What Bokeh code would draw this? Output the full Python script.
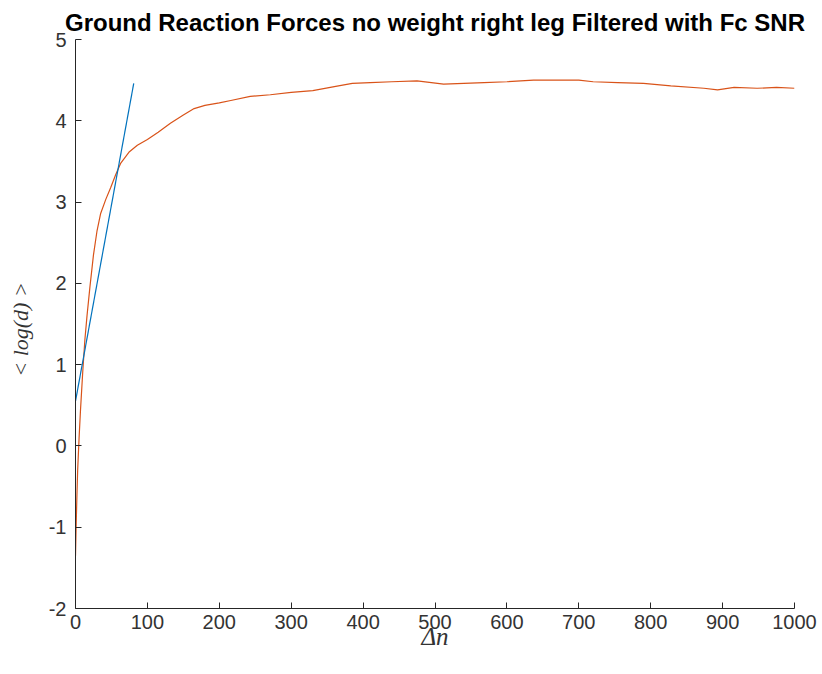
from bokeh.plotting import figure
from bokeh.models import Range1d, FixedTicker
from bokeh.embed import file_html
from bokeh.resources import INLINE

# Fitted straight line (blue)
fit_x = [0, 81]
fit_y = [0.55, 4.46]

# Mean log divergence curve (orange)
curve_x = [0, 1, 2, 3, 5, 7, 10, 13, 16, 20, 25, 30, 35, 42, 49, 56, 63, 75, 86,
           100, 115, 132, 150, 165, 180, 200, 216, 243, 271, 300, 330, 360, 385,
           410, 440, 475, 512, 540, 568, 600, 637, 679, 700, 720, 754, 790, 828,
           874, 893, 916, 948, 975, 1000]
curve_y = [-1.35, -0.95, -0.6, -0.3, 0.1, 0.45, 0.9, 1.3, 1.6, 1.95, 2.35, 2.65, 2.86,
           3.03, 3.18, 3.34, 3.48, 3.62, 3.70, 3.77, 3.86, 3.97, 4.07, 4.15, 4.19,
           4.22, 4.25, 4.30, 4.32, 4.35, 4.37, 4.42, 4.46, 4.47, 4.48, 4.49, 4.45,
           4.46, 4.47, 4.48, 4.50, 4.50, 4.50, 4.48, 4.47, 4.46, 4.43, 4.40, 4.38,
           4.41, 4.40, 4.41, 4.40]

x_ticks = [0, 100, 200, 300, 400, 500, 600, 700, 800, 900, 1000]
y_ticks = [-2, -1, 0, 1, 2, 3, 4, 5]

p = figure(width=822, height=674, output_backend="svg", toolbar_location=None,
           x_range=Range1d(0, 1000), y_range=Range1d(-2, 5),
           min_border_left=75, min_border_right=28, min_border_top=39,
           min_border_bottom=66,
           title="Ground Reaction Forces no weight right leg Filtered with Fc SNR")

p.title.align = "center"
p.title.text_font = "Liberation Sans"
p.title.text_font_size = "24px"
p.title.text_font_style = "bold"
p.title.text_color = "#000000"
p.title.standoff = 8

p.outline_line_color = None
p.xgrid.grid_line_color = None
p.ygrid.grid_line_color = None

for ax in (p.xaxis[0], p.yaxis[0]):
    ax.axis_line_color = "#262626"
    ax.major_tick_line_color = "#262626"
    ax.major_tick_in = 6
    ax.major_tick_out = 0
    ax.minor_tick_line_color = None
    ax.major_label_text_font = "Liberation Sans"
    ax.major_label_text_font_size = "20px"
    ax.major_label_text_color = "#333333"
    ax.axis_label_text_font = "Liberation Serif"
    ax.axis_label_text_font_style = "italic"
    ax.axis_label_text_color = "#333333"

p.xaxis[0].axis_label_text_font_size = "25px"
p.yaxis[0].axis_label_text_font_size = "22px"
p.xaxis[0].ticker = FixedTicker(ticks=x_ticks)
p.yaxis[0].ticker = FixedTicker(ticks=y_ticks)
p.yaxis[0].major_label_overrides = {t: str(t) for t in y_ticks}
p.xaxis[0].major_label_standoff = 6
p.yaxis[0].major_label_standoff = 9
p.xaxis[0].axis_label = "Δn"
p.yaxis[0].axis_label = "<  log(d)  >"
p.xaxis[0].axis_label_standoff = -9
p.yaxis[0].axis_label_standoff = 13

p.line(curve_x, curve_y, line_color="#D95319", line_width=1.2)
p.line(fit_x, fit_y, line_color="#0072BD", line_width=1.2)

open("out.html", "w").write(file_html(p, INLINE))
